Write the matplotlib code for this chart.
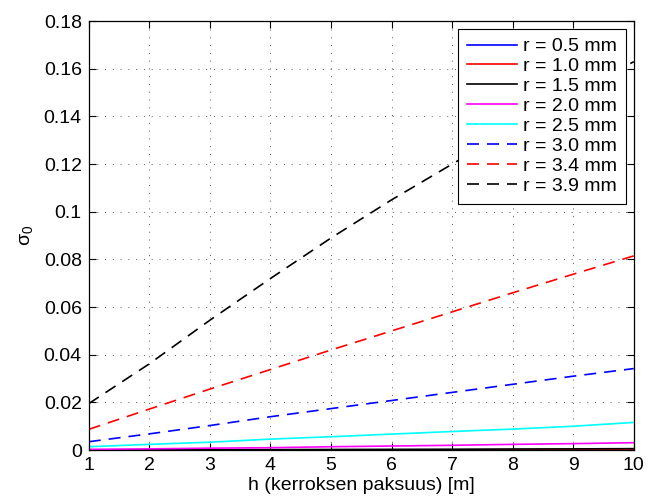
import numpy as np
import matplotlib
matplotlib.use("Agg")
import matplotlib.pyplot as plt
from matplotlib.ticker import FormatStrFormatter

plt.rcParams['font.family'] = ['Liberation Sans', 'DejaVu Sans']
plt.rcParams['mathtext.fontset'] = 'custom'
plt.rcParams['mathtext.rm'] = 'Liberation Sans'
plt.rcParams['mathtext.it'] = 'Liberation Sans'

# layer thickness h [m]
h = [1, 2, 3, 4, 5, 6, 7, 8, 9, 10]

# sigma_0 for each radius
s_05 = [0.0, 0.0, 0.0, 0.0, 0.0, 0.0, 0.0, 0.0, 0.0, 0.00002]
s_10 = [0.00001, 0.00002, 0.00003, 0.00004, 0.00005, 0.00006, 0.00007, 0.00008, 0.00009, 0.0001]
s_15 = [0.00005, 0.0001, 0.00015, 0.0002, 0.00025, 0.0003, 0.00035, 0.00045, 0.0005, 0.0006]
s_20 = [0.0003, 0.0005, 0.0008, 0.001, 0.0014, 0.0017, 0.002, 0.0024, 0.0027, 0.0031]
s_25 = [0.0014, 0.0024, 0.0033, 0.0046, 0.0056, 0.0067, 0.0078, 0.0088, 0.0100, 0.0116]
s_30 = [0.0035, 0.0068, 0.0103, 0.0140, 0.0174, 0.0208, 0.0242, 0.0276, 0.0310, 0.0342]
s_34 = [0.0087, 0.0172, 0.0256, 0.0338, 0.0420, 0.0500, 0.0580, 0.0660, 0.0738, 0.0815]
s_39 = [0.0195, 0.0362, 0.0545, 0.0720, 0.0890, 0.1050, 0.1200, 0.1350, 0.1490, 0.1630]

labels = ['r = 0.5 mm', 'r = 1.0 mm', 'r = 1.5 mm', 'r = 2.0 mm',
          'r = 2.5 mm', 'r = 3.0 mm', 'r = 3.4 mm', 'r = 3.9 mm']

fig = plt.figure(figsize=(6.48, 5.04), dpi=100)
ax = fig.add_axes([0.137, 0.107, 0.841, 0.851])

lw = 1.2
dash = (0, (7.2, 4.8))
ax.plot(h, s_05, color='blue', lw=lw, label=labels[0])
ax.plot(h, s_10, color='red', lw=lw, label=labels[1])
ax.plot(h, s_15, color='black', lw=lw, label=labels[2])
ax.plot(h, s_20, color='magenta', lw=lw, label=labels[3])
ax.plot(h, s_25, color='cyan', lw=lw, label=labels[4])
ax.plot(h, s_30, color='blue', lw=lw, ls=dash, label=labels[5])
ax.plot(h, s_34, color='red', lw=lw, ls=dash, label=labels[6])
ax.plot(h, s_39, color='black', lw=lw, ls=dash, label=labels[7])

ax.set_xlim(1, 10)
ax.set_ylim(0, 0.18)
ax.set_xticks(np.arange(1, 11, 1))
ax.set_yticks(np.arange(0, 0.181, 0.02))
ax.yaxis.set_major_formatter(FormatStrFormatter('%g'))
ax.tick_params(direction='in', top=True, right=True, length=5, labelsize=14,
               width=0.8, pad=5)
ax.grid(True, color='0.35', linestyle=(0, (1, 7)), lw=0.7)
for sp in ax.spines.values():
    sp.set_linewidth(0.9)

ax.set_xlabel('h (kerroksen paksuus) [m]', fontsize=14, labelpad=2)
ax.set_ylabel(r'$\sigma_0$', fontsize=14, labelpad=6)

leg = ax.legend(loc='upper right', fontsize=14, fancybox=False, framealpha=1,
                edgecolor='black', handlelength=2.6, labelspacing=0.12,
                borderaxespad=0.4, handletextpad=0.3, borderpad=0.45)
leg.get_frame().set_linewidth(0.8)

fig.savefig('out.png', dpi=100)
